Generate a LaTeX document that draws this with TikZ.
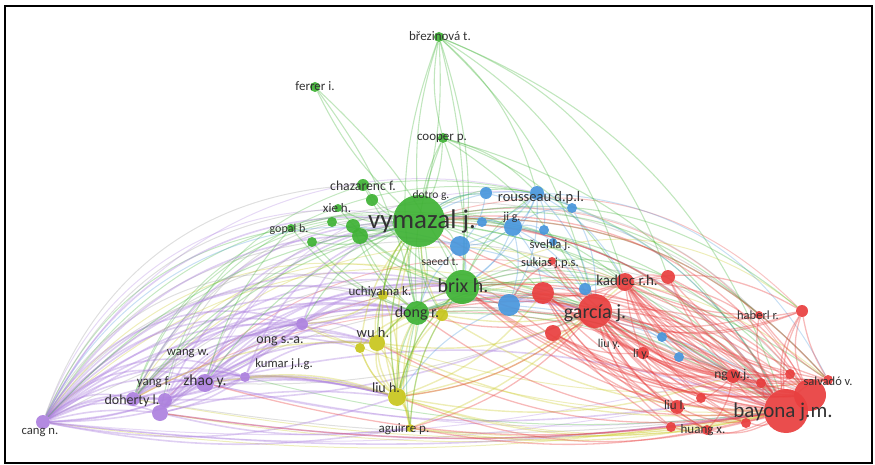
\documentclass[tikz,border=0pt]{standalone}
\usepackage{fontspec}
\setmainfont{Carlito}
\pgfdeclarelayer{edges}
\pgfsetlayers{edges,main}
\definecolor{cg}{RGB}{62,178,52}
\definecolor{cr}{RGB}{232,62,62}
\definecolor{cb}{RGB}{72,150,220}
\definecolor{cy}{RGB}{200,198,28}
\definecolor{cp}{RGB}{172,128,222}
\definecolor{cf}{RGB}{150,150,150}
\definecolor{txt}{RGB}{50,50,50}
\begin{document}
\begin{tikzpicture}[x=1pt,y=-1pt,
  nd/.style={circle,inner sep=0pt,minimum size=#1pt,draw=none,fill opacity=.92},
  gn/.style={nd=#1,fill=cg},
  rn/.style={nd=#1,fill=cr},
  bn/.style={nd=#1,fill=cb},
  yn/.style={nd=#1,fill=cy},
  pn/.style={nd=#1,fill=cp},
  lab/.style={inner sep=0pt,anchor=base,text=txt,font=\fontsize{#1}{#1}\selectfont},
  ed/.style={line width=1.1pt,draw opacity=.32},
  ge/.style={ed,draw=cg},
  re/.style={ed,draw=cr,line width=1.3pt,draw opacity=.36},
  be/.style={ed,draw=cb},
  ye/.style={ed,draw=cy,line width=1.4pt},
  pe/.style={ed,draw=cp,line width=1.6pt,draw opacity=.38},
  le/.style={line width=1pt,draw opacity=.3},
  frame/.style={line width=2pt,draw=black}]
\useasboundingbox (0,0) rectangle (875,465);
% ---------- nodes ----------
\foreach \n/\x/\y/\d in {vym/419/221/52, brix/462/287/34, dong/417/313/24, brez/439/37/10,
  ferr/315/87/10, coop/443/138/10, chaz/363/185/12, gA/372/200/12, xie/338/208/8,
  gB/332/222/10, gop/291/228/8, gC/353/226/14, gD/360/236/16, gE/312/242/10}
  \node[gn=\d] (\n) at (\x,\y) {};
\foreach \n/\x/\y/\d in {bA/486/193/12, rous/537/193/14, bB/572/208/10, bC/482/222/10,
  jig/513/227/18, bD/544/230/10, bE/460/246/20, sveh/553/242/8, bF/585/289/12,
  bG/509/305/22, bH/662/337/10, bI/679/357/10}
  \node[bn=\d] (\n) at (\x,\y) {};
\foreach \n/\x/\y/\d in {bay/786/411/44, bay2/810/395/32, suk/552/261/8, rA/543/293/22,
  garc/595/311/34, kad/625/282/18, rB/668/277/14, rC/553/333/16, liy/643/353/12,
  hab/759/315/8, rD/802/311/12, ngwj/733/376/14, rE/790/374/10, rF/761/383/10,
  salv/828/380/10, liul/677/407/14, rG/701/398/10, rH/671/427/10, huang/707/430/10,
  rI/746/423/10}
  \node[rn=\d] (\n) at (\x,\y) {};
\foreach \n/\x/\y/\d in {uchi/383/295/10, yA/442/315/12, wuh/377/343/16, yB/360/348/10,
  liuh/397/397/18, agui/410/428/8}
  \node[yn=\d] (\n) at (\x,\y) {};
\foreach \n/\x/\y/\d in {ong/302/324/12, pA/245/377/10, zhao/205/383/18, doh/133/399/14,
  pB/165/400/14, pC/160/413/16, cang/43/422/14}
  \node[pn=\d] (\n) at (\x,\y) {};
% ---------- labels ----------
\node[lab=27] (Lvym) at (422,228) {vymazal j.};
\node[lab=20] (Lbrix) at (463,292) {brix h.};
\node[lab=20] (Lgarc) at (595,318) {garcía j.};
\node[lab=21] (Lbay) at (783,417) {bayona j.m.};
\node[lab=16] (Ldong) at (417,317) {dong r.};
\node[lab=15.5] (Lzhao) at (205,385) {zhao y.};
\node[lab=14.5] (Lwuh) at (373,337) {wu h.};
\node[lab=14] (Lliuh) at (386,392) {liu h.};
\node[lab=14.5] (Lrous) at (541,201) {rousseau d.p.l.};
\node[lab=15] (Lkad) at (627,285) {kadlec r.h.};
\node[lab=13.7] (Lchaz) at (363,190) {chazarenc f.};
\node[lab=13] (Lbrez) at (440,41) {březinová t.};
\node[lab=13] (Lferr) at (315,91) {ferrer i.};
\node[lab=13] (Lcoop) at (442,141) {cooper p.};
\node[lab=11.5] (Ldotro) at (431,199) {dotro g.};
\node[lab=13] (Lxie) at (337,212) {xie h.};
\node[lab=12] (Lgop) at (289,233) {gopal b.};
\node[lab=11.5] (Lsaeed) at (440,265) {saeed t.};
\node[lab=12] (Ljig) at (512,220) {ji g.};
\node[lab=12.5] (Lsveh) at (550,248) {švehla j.};
\node[lab=12.5] (Lsuk) at (550,266) {sukias j.p.s.};
\node[lab=13] (Luchi) at (380,295) {uchiyama k.};
\node[lab=14] (Long) at (280,343) {ong s.-a.};
\node[lab=12.7] (Lwang) at (188,355) {wang w.};
\node[lab=12.7] (Lkum) at (284,367) {kumar j.l.g.};
\node[lab=13] (Lyang) at (154,385) {yang f.};
\node[lab=14] (Ldoh) at (132,404) {doherty l.};
\node[lab=12.7] (Lcang) at (40,434) {cang n.};
\node[lab=13] (Lagui) at (404,432) {aguirre p.};
\node[lab=12] (Lliuy) at (609,347) {liu y.};
\node[lab=12] (Lliy) at (641,357) {li y.};
\node[lab=12.5] (Lhab) at (758,319) {haberl r.};
\node[lab=13.5] (Lng) at (732,378) {ng w.j.};
\node[lab=12.5] (Lsalv) at (828,385) {salvadó v.};
\node[lab=13] (Lliul) at (675,409) {liu l.};
\node[lab=13] (Lhuang) at (703,433) {huang x.};
% ---------- edges ----------
\begin{pgfonlayer}{edges}
\begin{scope}
\clip (7,8) rectangle (870,461);
% long faint arcs over the whole picture
\foreach \a/\b/\c/\k in {cang/rous/-38/cp, cang/kad/-34/cf, cang/garc/-32/cy,
  doh/garc/-30/cf, doh/kad/-34/cy, zhao/rous/-34/cp, cang/jig/-36/cg,
  pC/garc/-27/cf, doh/rous/-36/cg, cang/vym/-40/cp, doh/vym/-38/cg,
  zhao/vym/-34/cf, cang/brix/-36/cy, pB/kad/-30/cr,
  cang/gop/-28/cg, cang/gE/-24/cf, doh/gB/-28/cg, cang/xie/-30/cf,
  pC/chaz/-30/cg, cang/bE/-40/cb, doh/jig/-38/cf, cang/dong/-38/cf, cang/chaz/-34/cf,
  cang/uchi/-42/cf, doh/brix/-40/cy, pB/vym/-40/cf,
  bay/dong/30/cr, bay/uchi/34/cf, bay/ong/32/cr, bay/zhao/30/cf,
  bay/doh/28/cr, bay2/cang/26/cf, bay2/vym/36/cr, bay/chaz/34/cg,
  salv/gop/32/cf, rD/vym/30/cr, bay2/brix/34/cf, salv/dong/30/cy,
  bay/gC/30/cg, hab/vym/28/cf, rD/brix/34/cy, salv/rous/30/cb,
  cang/bay/8/cy, doh/bay/8/cf, zhao/bay/9/cp, pC/bay/9/cy, liuh/bay/14/cy,
  agui/bay/8/cy, cang/liul/8/cp, doh/huang/7/cy, zhao/garc/12/cf, pA/bay/10/cg,
  cang/ngwj/9/cp, ong/bay/12/cy, wuh/salv/12/cy}
  \draw[le,draw=\k] (\a) to[bend right=\c] (\b);
% purple
\foreach \a/\b/\c in {cang/doh/-15, cang/pB/-20, cang/pC/-10, cang/zhao/-22, cang/pA/-26,
  cang/ong/-30, cang/wuh/-30, cang/yB/-26, cang/liuh/-18, cang/dong/-30, cang/brix/-30,
  cang/vym/-34, cang/uchi/-32, cang/yA/-26, cang/bE/-34, cang/garc/-22,
  cang/doh/-28, cang/zhao/-34, cang/pA/-36, cang/ong/-38, cang/pC/-22, cang/pB/8,
  cang/zhao/10, cang/pA/12,
  doh/zhao/-20, doh/pA/-25, doh/ong/-28, doh/liuh/-15, doh/vym/-30, doh/brix/-28,
  doh/dong/-28, doh/wuh/-28, zhao/pA/-20, zhao/ong/-25, zhao/liuh/-10, zhao/wuh/-25,
  zhao/vym/-28, zhao/brix/-25, zhao/dong/-25, zhao/garc/-20, zhao/bay/-15,
  pB/ong/-25, pB/zhao/-15, pB/liuh/-15, pB/vym/-28, pB/dong/-25,
  pC/zhao/-20, pC/liuh/-10, pC/ong/-25, pC/dong/-20, pC/brix/-25, pC/wuh/-20,
  pA/ong/-20, pA/liuh/-10, pA/vym/-25, pA/wuh/-20,
  ong/wuh/-20, ong/vym/-25, ong/brix/-20, ong/dong/-20, ong/uchi/-20,
  doh/pA/10, pC/pA/10, pB/ong/10, doh/ong/12, zhao/ong/10,
  cang/liuh/14, cang/agui/10, pC/bay/8, doh/garc/12, cang/bay/7, zhao/liul/10, pC/agui/10}
  \draw[pe] (\a) to[bend right=\c] (\b);
% yellow
\foreach \a/\b/\c in {liuh/wuh/-15, liuh/yB/-15, liuh/dong/-15, liuh/brix/-15, liuh/vym/-15,
  liuh/uchi/-10, liuh/yA/-15, liuh/agui/-15, liuh/garc/15, liuh/bay/15, liuh/kad/15,
  liuh/ngwj/14, wuh/dong/-15, wuh/vym/-15, wuh/brix/-15, wuh/uchi/-15, wuh/yA/-15,
  wuh/garc/15, wuh/bay/14, yB/vym/-15, yB/dong/-15, agui/vym/-15, agui/brix/-15,
  agui/bay/10, agui/dong/-15, agui/garc/10, uchi/vym/-15, uchi/brix/-15, uchi/dong/-15,
  yA/vym/-10, yA/brix/-10, yA/garc/10, wuh/doh/15, liuh/zhao/12, liuh/wuh/15,
  liuh/dong/10, liuh/uchi/12, wuh/ong/-15, uchi/ong/-15, liuh/pA/12, agui/liuh/20,
  wuh/liuh/25, yB/liuh/15, liuh/rA/15, yA/bay/15}
  \draw[ye] (\a) to[bend right=\c] (\b);
% green
\foreach \a/\b/\c in {vym/brez/-10, vym/ferr/-10, vym/coop/-8, vym/chaz/-15, vym/gA/-15,
  vym/xie/-15, vym/gB/-15, vym/gop/-15, vym/gC/-15, vym/gD/-15, vym/gE/-15, vym/brix/-15,
  vym/dong/-15, vym/bE/-15, vym/jig/-15, vym/rous/-20, vym/bA/-15, vym/garc/-15,
  vym/kad/-20, vym/rA/-15, vym/bay/-20, vym/bay2/-22, vym/ngwj/-20, vym/salv/-25,
  vym/rD/-25, vym/hab/-25, vym/liuh/15, vym/wuh/15, vym/uchi/15, vym/yA/15,
  vym/brez/8, vym/coop/10, vym/dong/15, vym/liuh/-12, vym/gop/12, vym/ong/15,
  brix/dong/-15, brix/coop/12, brix/brez/12, brix/garc/-15, brix/kad/-15, brix/rA/-15,
  brix/bG/-15, brix/bay/-15, brix/jig/-15, brix/rous/-15, brix/ngwj/-15, brix/rB/-20,
  brix/salv/-20, coop/brez/-12, coop/dong/12, coop/garc/-15, coop/rous/-15, coop/bay/-22,
  coop/kad/-18, brez/dong/15, brez/garc/-16, brez/rous/-16, brez/kad/-20, brez/bay/-24,
  brez/brix/-8, brez/rB/-24, ferr/dong/-12, ferr/brix/-10, dong/garc/-15, dong/bay/-15,
  dong/kad/-15, dong/bG/-15, dong/ngwj/-15, gC/dong/15, gD/brix/15, gD/dong/10,
  gC/brix/10, chaz/brix/15, gop/dong/15, gE/dong/12, xie/brix/15, vym/doh/15, vym/zhao/15,
  brix/liuh/15, brix/wuh/15, dong/liuh/12, brix/agui/15, dong/agui/10, vym/cang/18,
  gD/doh/15, gop/zhao/12}
  \draw[ge] (\a) to[bend right=\c] (\b);
% blue
\foreach \a/\b/\c in {rous/jig/-15, rous/bA/-15, rous/bB/-15, rous/bD/-15, rous/bC/-15,
  rous/bE/-15, rous/brix/-15, rous/garc/-15, rous/bG/-15, rous/bay/-20, rous/kad/-15,
  jig/bE/-15, jig/bD/-15, jig/bB/-15, jig/sveh/-15, jig/brix/-15, jig/garc/-15,
  jig/bG/-15, jig/bay/-20, jig/rA/-15, bG/garc/-15, bG/bay/-15, bG/bF/-15, bG/rA/-15,
  bG/dong/15, bH/garc/15, bH/bay/-15, bI/bay/-15, bI/garc/15, bF/garc/-15, bF/kad/-15,
  bA/bE/-15, bA/vym/15, bE/brix/-15, bE/garc/-15, bB/garc/-15, bD/garc/-15,
  bE/dong/12, bG/liuh/15, rous/vym/15, jig/vym/12}
  \draw[be] (\a) to[bend right=\c] (\b);
% red
\foreach \a/\b/\c in {bay/garc/-20, bay/kad/-15, bay/rA/-20, bay/rB/-15, bay/rC/-20,
  bay/liy/-20, bay/ngwj/-20, bay/rE/-20, bay/rF/-20, bay/salv/-20, bay/liul/-20,
  bay/rG/-20, bay/rH/-20, bay/huang/-20, bay/rI/-20, bay/hab/-20, bay/rD/-20,
  bay/brix/-20, bay/vym/25, bay/dong/-20, bay/liuh/-18, bay/jig/20, bay/suk/-20,
  bay/wuh/-18, bay/zhao/-12, bay/kad/25, bay/garc/25, bay/rA/25, bay/brix/25,
  bay/dong/25, bay2/garc/-20, bay2/kad/-20, bay2/rA/-15, bay2/rB/-20, bay2/ngwj/-20,
  bay2/brix/-20, bay2/vym/30, bay2/rD/-20, bay2/garc/25, bay2/kad/30, bay2/bG/-20,
  bay2/dong/25, bay/garc/-8, bay/garc/10, bay2/garc/-10, bay2/garc/8, bay/rA/-8,
  bay/kad/-5, bay2/rB/12, bay/liy/-8, bay/rC/-10, bay2/liy/-15, bay2/rC/-18,
  garc/kad/-15, garc/rA/-15, garc/rC/-15, garc/liy/15, garc/ngwj/15,
  garc/liul/15, garc/huang/15, garc/rB/-15, garc/brix/-15, garc/vym/-15, garc/dong/-15,
  garc/liuh/-15, garc/salv/15, garc/rG/15, garc/rI/15, kad/rB/-15, kad/rA/-15,
  kad/ngwj/15, kad/liul/15, kad/brix/-15, kad/vym/-15, kad/salv/15, kad/rD/-20,
  ngwj/rC/-15, ngwj/liul/-15, ngwj/huang/-15, ngwj/rA/-15, salv/rA/-20, salv/vym/25,
  salv/rB/-15, salv/hab/-10, salv/rD/-10, hab/garc/-15, rD/garc/-20, rD/kad/-20,
  rD/bay/15, liul/rC/-15, liul/rA/-15, rH/garc/-15, huang/garc/-15, rI/kad/-20,
  rE/kad/-15, rF/garc/-15, rG/kad/-15, liy/rC/-15, suk/garc/15, suk/bG/15,
  bay/agui/-12, garc/agui/-15, bay/pC/-8, salv/garc/-22, salv/kad/-25, rE/garc/-20,
  rF/kad/-22, rI/garc/-18, huang/rA/-15, rH/rA/-15, liul/garc/-25, ngwj/kad/-22,
  hab/kad/-12, rD/rA/-22, bay2/suk/-20, rE/brix/-20, salv/brix/-22}
  \draw[re] (\a) to[bend right=\c] (\b);
\end{scope}
\end{pgfonlayer}
% ---------- frame ----------
\draw[frame] (5,6) rectangle (872,463);
\end{tikzpicture}
\end{document}
